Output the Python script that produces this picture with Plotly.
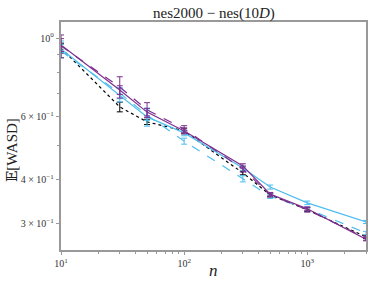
import plotly.graph_objects as go

n = [10, 30, 50, 100, 300, 500, 1000, 3000]

black_dot = [0.937, 0.640, 0.581, 0.548, 0.4175, 0.362, 0.329, 0.276]
black_err = [0.03, 0.02, 0.01, 0.01, 0.005, 0.004, 0.004, 0.003]

purple_solid = [0.956, 0.714, 0.619, 0.548, 0.437, 0.364, 0.331, 0.272]
purple_solid_err = [0.04, 0.02, 0.015, 0.01, 0.006, 0.004, 0.004, 0.003]

purple_dash = [0.950, 0.728, 0.628, 0.555, 0.428, 0.362, 0.329, 0.274]
purple_dash_err = [0.07, 0.05, 0.03, 0.012, 0.008, 0.005, 0.005, 0.004]

cyan_solid = [0.931, 0.691, 0.600, 0.541, 0.431, 0.381, 0.344, 0.304]
cyan_solid_err = [0.05, 0.03, 0.035, 0.01, 0.006, 0.005, 0.004, 0.003]

cyan_dash = [0.919, 0.700, 0.607, 0.513, 0.402, 0.359, 0.331, 0.283]
cyan_dash_err = [0.04, 0.025, 0.02, 0.01, 0.008, 0.005, 0.004, 0.003]

PURPLE = "#7E2F8E"
CYAN = "#4DBEEE"

series = [
    (black_dot, black_err, "black", "dot"),
    (cyan_dash, cyan_dash_err, CYAN, "dash"),
    (cyan_solid, cyan_solid_err, CYAN, "solid"),
    (purple_dash, purple_dash_err, PURPLE, "dash"),
    (purple_solid, purple_solid_err, PURPLE, "solid"),
]

fig = go.Figure()
for ys, es, col, dash in series:
    fig.add_trace(go.Scatter(
        x=n, y=ys, mode="lines",
        line=dict(color=col, width=1.2, dash=dash),
        error_y=dict(type="data", array=es, color=col, thickness=1, width=3),
        showlegend=False, hoverinfo="skip",
    ))

serif = "Liberation Serif, DejaVu Serif, serif"
axcol = "#999999"

fig.update_layout(
    width=374, height=287,
    margin=dict(l=61, r=6, t=22, b=37),
    plot_bgcolor="white", paper_bgcolor="white",
    font=dict(family=serif, color="#333"),
    annotations=[
        dict(text="nes2000 − nes(10<i>D</i>)", xref="paper", yref="paper",
             x=0.50, y=1.039, xanchor="center", yanchor="middle", showarrow=False,
             font=dict(family=serif, size=15, color="#222")),
        dict(text="<i>n</i>", xref="paper", yref="paper",
             x=0.50, y=-0.092, xanchor="center", yanchor="middle", showarrow=False,
             font=dict(family=serif, size=17, color="#222")),
        dict(text="𝔼[WASD]", xref="paper", yref="paper", textangle=-90,
             x=-0.16, y=0.439, xanchor="center", yanchor="middle", showarrow=False,
             font=dict(family=serif, size=15, color="#222")),
    ],
)

fig.update_xaxes(
    type="log", range=[1, 3.4771],
    tickvals=[10, 100, 1000],
    ticktext=["10<sup>1</sup>", "10<sup>2</sup>", "10<sup>3</sup>"],
    ticks="outside", ticklen=3.5, tickcolor=axcol, tickwidth=1,
    tickfont=dict(family=serif, size=10, color="#333"),
    minor=dict(tickvals=[20, 30, 40, 50, 60, 70, 80, 90, 200, 300, 400, 500, 600, 700, 800, 900, 2000, 3000],
               ticks="outside", ticklen=2, tickcolor=axcol, tickwidth=1, showgrid=False),
    showline=True, linecolor=axcol, linewidth=1.5, mirror=True,
    showgrid=False, zeroline=False,
)

fig.update_yaxes(
    type="log", range=[-0.596, 0.045],
    tickvals=[1, 0.6, 0.4, 0.3],
    ticktext=["10<sup>0</sup>", "6 × 10<sup>−1</sup>", "4 × 10<sup>−1</sup>", "3 × 10<sup>−1</sup>"],
    ticks="outside", ticklen=3.5, tickcolor=axcol, tickwidth=1,
    tickfont=dict(family=serif, size=10, color="#333"),
    minor=dict(tickvals=[0.9, 0.8, 0.7, 0.5], ticks="outside", ticklen=2.5,
               tickcolor=axcol, tickwidth=1, showgrid=False),
    showline=True, linecolor=axcol, linewidth=1.5, mirror=True,
    showgrid=False, zeroline=False,
)

fig.write_html("out.html", config={"displayModeBar": False},
               post_script="document.body.style.margin='0';document.body.style.padding='0';")
